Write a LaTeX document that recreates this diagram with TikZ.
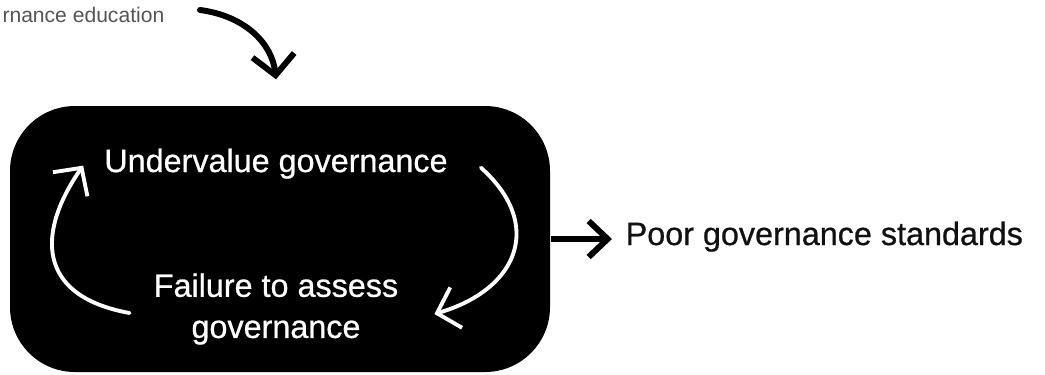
\documentclass[tikz,border=0pt]{standalone}
\usepackage{fontspec}
\setmainfont{Liberation Sans}
\newfontfamily\medfont[FakeBold=0.7]{Liberation Sans}
\usetikzlibrary{arrows.meta,positioning}
\definecolor{notegray}{HTML}{555555}
\definecolor{inkblack}{HTML}{111111}
\tikzset{
  loopbox/.style={fill=black, rounded corners=0.65cm, minimum width=5.4cm, minimum height=2.66cm, inner sep=0pt},
  looptext/.style={text=white, font=\medfont\fontsize{9.2}{11.7}\selectfont, inner sep=0pt, align=center},
  outtext/.style={text=inkblack, font=\medfont\fontsize{9.2}{11.7}\selectfont, inner sep=0pt},
  notetext/.style={text=notegray, font=\fontsize{6}{7}\selectfont, inner sep=0pt},
  looparrow/.style={white, line width=1.1pt, line cap=round, -{Straight Barb[length=2mm,width=4.2mm]}},
  toparrow/.style={black, line width=1.7pt, line cap=round, -{Straight Barb[length=2mm,width=4.2mm]}},
  outarrow/.style={black, line width=1.7pt, -{Straight Barb[length=1.9mm,width=3.6mm]}}
}
\begin{document}
\begin{tikzpicture}
			\useasboundingbox (0,0) rectangle (10.45,3.74);
			% Caja del ciclo
			\node[loopbox] (loop) at (2.80,1.35) {};
			\node[looptext, anchor=base] (undervalue) at (2.76,2.02) {Undervalue governance};
			\node[looptext] (failure) at (2.76,0.65) {Failure to assess\\governance};
			
			\draw[looparrow] ([shift={(-2.35mm,-0.4mm)}]failure.west) .. controls +(-0.94,0.17) and +(-0.46,-0.66) .. ([shift={(-2.05mm,-0.2mm)}]undervalue.west);
			\draw[looparrow] ([shift={(3.25mm,-0.4mm)}]undervalue.east) .. controls +(0.63,-0.56) and +(0.85,0.25) .. ([shift={(3.55mm,-0.5mm)}]failure.east);
			
			% Nota de arriba
			\node[notetext, anchor=base east] (note) at (1.65,3.52) {rnance education};
			\draw[toparrow] ([shift={(3.5mm,0.45mm)}]note.east) .. controls +(0.45,-0.06) and +(-0.04,0.36) .. ([shift={(-0.4mm,2.6mm)}]loop.north);
			
			% Resultado
			\node[outtext, anchor=base west] (poor) at (6.25,1.29) {Poor governance standards};
			\draw[outarrow, shorten >=1.3mm] (loop.east) -- (loop.east -| poor.west);
		\end{tikzpicture}
\end{document}
